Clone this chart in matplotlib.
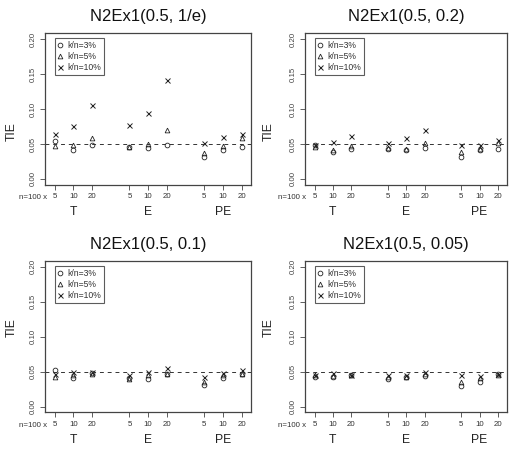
import matplotlib
matplotlib.use("Agg")
import matplotlib.pyplot as plt
from matplotlib.transforms import blended_transform_factory

plt.rcParams['font.family'] = ['Liberation Sans', 'DejaVu Sans']

# x layout: 3 sample sizes inside 3 tests
xpos = [1, 2, 3, 5, 6, 7, 9, 10, 11]
xlabels = ["5", "10", "20", "5", "10", "20", "5", "10", "20"]
groups = ["T", "E", "PE"]
group_pos = [2, 6, 10]

titles = ["N2Ex1(0.5, 1/e)", "N2Ex1(0.5, 0.2)", "N2Ex1(0.5, 0.1)", "N2Ex1(0.5, 0.05)"]

# TIE values, order T5 T10 T20 E5 E10 E20 PE5 PE10 PE20
p1_k3 = [0.054, 0.041, 0.049, 0.046, 0.045, 0.049, 0.031, 0.042, 0.046]
p1_k5 = [0.047, 0.048, 0.059, 0.046, 0.050, 0.070, 0.037, 0.047, 0.059]
p1_k10 = [0.065, 0.076, 0.106, 0.077, 0.095, 0.142, 0.051, 0.060, 0.065]

p2_k3 = [0.048, 0.039, 0.043, 0.043, 0.041, 0.044, 0.031, 0.041, 0.043]
p2_k5 = [0.046, 0.041, 0.047, 0.044, 0.043, 0.051, 0.038, 0.043, 0.052]
p2_k10 = [0.049, 0.053, 0.062, 0.051, 0.058, 0.070, 0.048, 0.049, 0.056]

p3_k3 = [0.053, 0.041, 0.048, 0.041, 0.040, 0.047, 0.031, 0.041, 0.047]
p3_k5 = [0.043, 0.046, 0.047, 0.040, 0.045, 0.047, 0.036, 0.045, 0.047]
p3_k10 = [0.047, 0.050, 0.050, 0.046, 0.049, 0.056, 0.042, 0.048, 0.052]

p4_k3 = [0.042, 0.042, 0.045, 0.040, 0.042, 0.044, 0.030, 0.036, 0.047]
p4_k5 = [0.046, 0.044, 0.046, 0.043, 0.043, 0.047, 0.036, 0.041, 0.046]
p4_k10 = [0.045, 0.048, 0.046, 0.046, 0.045, 0.050, 0.045, 0.044, 0.047]

panels = [(p1_k3, p1_k5, p1_k10), (p2_k3, p2_k5, p2_k10),
          (p3_k3, p3_k5, p3_k10), (p4_k3, p4_k5, p4_k10)]
series_names = ["k/n=3%", "k/n=5%", "k/n=10%"]
markers = ["o", "^", "x"]

W, H = 513, 450
fig = plt.figure(figsize=(W / 100, H / 100), dpi=100)

# axes boxes in pixels: left, right, top, bottom
col_px = [(45, 251), (305, 507)]
row_px = [(33.4, 184.6), (261.1, 412.3)]
tie_y = [132, 328]
ink = "#222222"

for i in range(4):
    r, c = divmod(i, 2)
    l, rr = col_px[c]
    t, b = row_px[r]
    ax = fig.add_axes([l / W, 1 - b / H, (rr - l) / W, (b - t) / H])
    k3, k5, k10 = panels[i]
    for vals, m, name in zip((k3, k5, k10), markers, series_names):
        if m == "x":
            ax.plot(xpos, vals, ls="none", marker=m, ms=3.6, mew=0.7,
                    color=ink, label=name)
        else:
            ax.plot(xpos, vals, ls="none", marker=m, ms=3.4, mew=0.6,
                    mfc="none", mec=ink, label=name)
    ax.axhline(0.05, color="#333333", lw=0.7, ls=(0, (4, 4)))
    ax.set_xlim(0.48, 11.5)
    ax.set_ylim(-0.008, 0.208)
    ax.set_yticks([0, 0.05, 0.10, 0.15, 0.20])
    ax.set_yticklabels(["0.00", "0.05", "0.10", "0.15", "0.20"],
                       rotation=90, va="center", fontsize=5.7, color="#444444")
    ax.set_xticks(xpos)
    ax.set_xticklabels(xlabels, fontsize=5.7, color="#333333")
    ax.tick_params(length=3.5, width=0.6, color="#444444", pad=2.5)
    for sp in ax.spines.values():
        sp.set_color("#444444")
        sp.set_linewidth(0.9)

    ax.text(0.5, 1 + 17 / (b - t), titles[i], transform=ax.transAxes,
            ha="center", va="center", fontsize=12, color="#111111")
    ax.text(0.008, -13 / (b - t), "n=100 x", transform=ax.transAxes,
            ha="right", va="center", fontsize=5.7, color="#333333")
    trans = blended_transform_factory(ax.transData, ax.transAxes)
    for g, gp in zip(groups, group_pos):
        ax.text(gp, -27.5 / (b - t), g, transform=trans, ha="center",
                va="center", fontsize=8.7, color="#222222")
    fig.text((12 + 257 * c) / W, 1 - tie_y[r] / H, "TIE", rotation=90,
             ha="center", va="center", fontsize=8.7, color="#222222")

    leg = ax.legend(loc="upper left", bbox_to_anchor=(10 / (rr - l), 1 - 4.6 / (b - t)),
                    fontsize=6.2, frameon=True, fancybox=False, borderaxespad=0,
                    handlelength=0.5, handletextpad=0.55, labelspacing=0.25,
                    borderpad=0.35)
    leg.get_frame().set_edgecolor("#333333")
    leg.get_frame().set_linewidth(0.8)
    for txt in leg.get_texts():
        txt.set_color("#333333")

fig.savefig("out.png", dpi=100)
